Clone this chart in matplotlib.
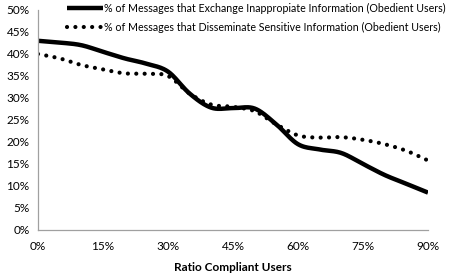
import numpy as np
import matplotlib
matplotlib.use("Agg")
import matplotlib.pyplot as plt
from matplotlib.ticker import FuncFormatter

# ratio of compliant users (%)
ratio = [0, 5, 10, 15, 20, 25, 30, 35, 40, 45, 50, 55, 60, 65, 70, 75, 80, 85, 90]
exchange = [43, 42.6, 42, 40.5, 39, 37.8, 36, 31, 27.8, 27.7, 27.6, 24, 19.5, 18.3, 17.5, 15, 12.5, 10.5, 8.5]
dissem = [40, 39, 37.5, 36.5, 35.6, 35.5, 35, 31, 28.5, 28, 27, 24, 21.5, 21, 21.1, 20.5, 19.5, 18, 15.8]

lbl_ex = "% of Messages that Exchange Inappropiate Information (Obedient Users)"
lbl_di = "% of Messages that Disseminate Sensitive Information (Obedient Users)"


def smooth(x, y, n=20):
    # catmull-rom style smoothing, similar to excel "smoothed line"
    x = np.asarray(x, float); y = np.asarray(y, float)
    px = np.concatenate([[2*x[0]-x[1]], x, [2*x[-1]-x[-2]]])
    py = np.concatenate([[2*y[0]-y[1]], y, [2*y[-1]-y[-2]]])
    xs, ys = [], []
    t = np.linspace(0, 1, n, endpoint=False)
    for i in range(1, len(px)-2):
        for P, out in ((px, xs), (py, ys)):
            p0, p1, p2, p3 = P[i-1], P[i], P[i+1], P[i+2]
            out.extend(0.5*((2*p1) + (-p0+p2)*t + (2*p0-5*p1+4*p2-p3)*t**2 + (-p0+3*p1-3*p2+p3)*t**3))
    xs.append(x[-1]); ys.append(y[-1])
    return np.array(xs), np.array(ys)


plt.rcParams['font.family'] = ['Lato', 'DejaVu Sans']
fig = plt.figure(figsize=(4.49, 2.76), dpi=100)
ax = fig.add_axes([38/449, 46/276, 390/449, 220/276])

sx, sy = smooth(ratio, exchange)
ax.plot(sx, sy, color='black', lw=3.2, solid_capstyle='butt', label=lbl_ex)
sx, sy = smooth(ratio, dissem)
ax.plot(sx, sy, color='black', lw=3, linestyle=(0, (0.01, 2)), dash_capstyle='round', label=lbl_di)

ax.set_xlim(0, 90)
ax.set_ylim(0, 50)
ax.set_xticks(range(0, 91, 15))
ax.set_yticks(range(0, 51, 5))
ax.xaxis.set_major_formatter(FuncFormatter(lambda v, p: f"{int(v)}%"))
ax.yaxis.set_major_formatter(FuncFormatter(lambda v, p: f"{int(v)}%"))
ax.tick_params(length=0, labelsize=8.5, colors='black', pad=8)
ax.tick_params(axis='y', pad=6)
for s in ['top', 'right']:
    ax.spines[s].set_visible(False)
for s in ['left', 'bottom']:
    ax.spines[s].set_color('#a0a0a0')
    ax.spines[s].set_linewidth(0.9)

ax.set_xlabel("Ratio Compliant Users", fontsize=8.5, fontweight='bold', labelpad=7)
ax.legend(loc='upper right', bbox_to_anchor=(446/449, 1 - 3/276), bbox_transform=fig.transFigure,
          frameon=False, fontsize=7.7, borderpad=0,
          handlelength=3.3, handletextpad=0.15, labelspacing=0.7, borderaxespad=0)

fig.savefig("out.png", dpi=100)
